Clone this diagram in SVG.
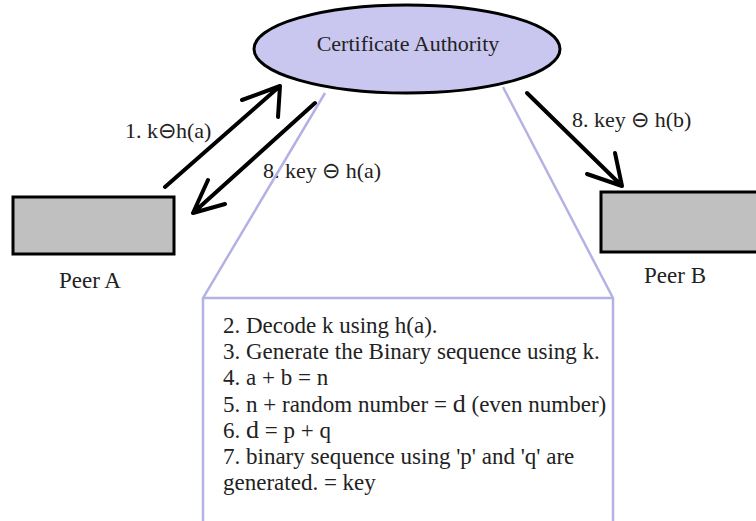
<svg xmlns="http://www.w3.org/2000/svg" width="756" height="521" viewBox="0 0 756 521">
<defs>
<style>
.t{fill:#222;}
.peer{fill:#c0c0c0;stroke:#000;stroke-width:3;}
.arr{stroke:#000;stroke-width:4;fill:none;stroke-linecap:round;stroke-linejoin:round;}
.call{stroke:#b4b2e4;stroke-width:2.5;fill:none;}
</style>
</defs>
<rect width="756" height="521" fill="#fff"/>

<g id="callout">
<rect x="203" y="298" width="410" height="240" fill="#fff"/>
</g>

<g id="labels">
<text class="t" x="125" y="138" font-family="Liberation Serif" font-size="22">1. k⊖h(a)</text>
<text class="t" x="263" y="178" font-family="Liberation Serif" font-size="22">8. key ⊖ h(a)</text>
<text class="t" x="572" y="127" font-family="Liberation Serif" font-size="22">8. key ⊖ h(b)</text>
</g>

<g id="callout-lines">
<path class="call" d="M325,93 L203,298 L203,530 M613,530 L613,298 L503,87 M203,298 L613,298"/>
</g>

<g id="ca">
<ellipse cx="407" cy="49" rx="153" ry="44" fill="#c9c7ef" stroke="#000" stroke-width="3"/>
<text class="t" x="408" y="51" font-family="Liberation Serif" font-size="22" text-anchor="middle">Certificate Authority</text>
</g>

<g id="peerA">
<rect class="peer" x="13" y="197" width="161" height="57"/>
<text class="t" x="90" y="288" font-family="Liberation Serif" font-size="23" text-anchor="middle">Peer A</text>
</g>

<g id="peerB">
<rect class="peer" x="601" y="192" width="170" height="60"/>
<text class="t" x="675" y="283" font-family="Liberation Serif" font-size="23" text-anchor="middle">Peer B</text>
</g>

<g id="steps">
<text class="t" font-family="Liberation Serif" font-size="23">
<tspan x="223" y="333">2. Decode k using h(a).</tspan>
<tspan x="223" y="359">3. Generate the Binary sequence using k.</tspan>
<tspan x="223" y="385">4. a + b = n</tspan>
<tspan x="223" y="412">5. n + random number = <tspan font-size="26">d</tspan> (even number)</tspan>
<tspan x="223" y="438">6. <tspan font-size="26">d</tspan> = p + q</tspan>
<tspan x="223" y="464">7. binary sequence using 'p' and 'q' are</tspan>
<tspan x="223" y="490">generated. = key</tspan>
</text>
</g>

<g id="connectors">
<path class="arr" d="M165,187 L280,86 M242,100 L280,86 L278,117"/>
<path class="arr" d="M315,103 L193,213 M208,180 L193,213 L225,204"/>
<path class="arr" d="M527,93 L622,186 M615,153 L622,186 L587,174"/>
</g>
</svg>
